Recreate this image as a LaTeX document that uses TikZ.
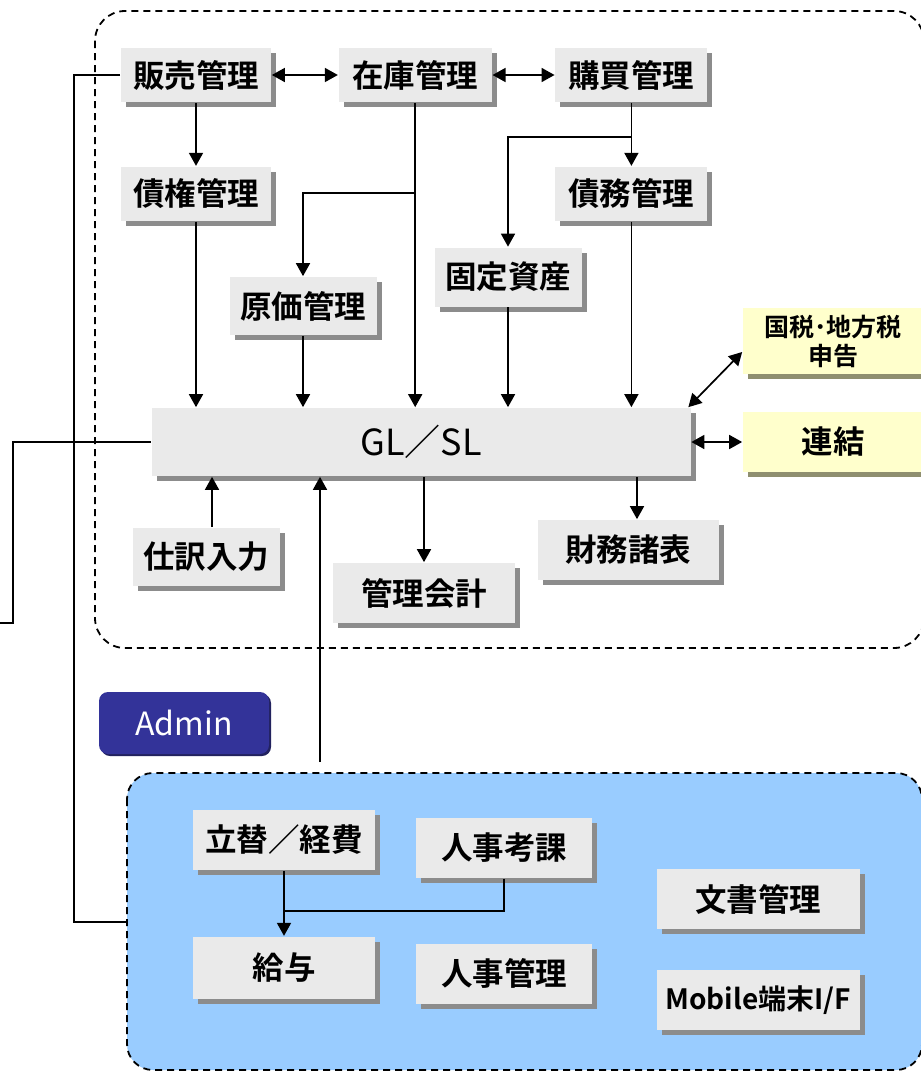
\documentclass[tikz,border=0pt]{standalone}
\usepackage{fontspec}
\setmainfont{Noto Sans CJK JP}[BoldFont={Noto Sans CJK JP Bold}]
\usetikzlibrary{arrows.meta,positioning,shadows}
\definecolor{boxgray}{HTML}{EAEAEA}
\definecolor{shadegray}{HTML}{8C8C8C}
\definecolor{taxyellow}{HTML}{FFFFCC}
\definecolor{taxshade}{HTML}{8F8F70}
\definecolor{hrblue}{HTML}{99CCFF}
\definecolor{adminblue}{HTML}{333399}
\definecolor{adminshade}{HTML}{22225E}

\begin{document}
\begin{tikzpicture}[x=1pt,y=-1pt,>={Triangle[length=13pt,width=14pt]},line width=1.7pt,
  box/.style={shape=rectangle,fill=boxgray,inner sep=0pt,minimum height=56pt,
    font=\fontsize{31.5}{35}\selectfont\bfseries,
    drop shadow={shadow xshift=5pt,shadow yshift=-5pt,fill=shadegray,opacity=1}},
  taxbox/.style={box,fill=taxyellow,drop shadow={shadow xshift=5pt,shadow yshift=-5pt,fill=taxshade,opacity=1}},
  area/.style={dashed,dash pattern=on 7pt off 5pt,line width=1.8pt,rounded corners=30pt}]
\useasboundingbox (0,0) rectangle (921,1071);
% areas
\draw[area] (95,11) rectangle (924,648);
\draw[area,fill=hrblue,rounded corners=26pt] (127,773) rectangle (922,1070);

% accounting
\node (hanbai) [box,minimum width=150pt,minimum height=54pt] at (196,75) {販売管理};
\node (zaiko) [box,minimum width=153pt,minimum height=54pt,right=66pt of hanbai] {在庫管理};
\node (kobai) [box,minimum width=152pt,minimum height=54pt,right=62pt of zaiko] {購買管理};
\node (saiken) [box,minimum width=150pt,minimum height=54pt,below=63pt of hanbai] {債権管理};
\node (saimu) [box,minimum width=152pt,minimum height=54pt,below=63pt of kobai] {債務管理};
\node (genka) [box,minimum width=147pt,minimum height=58pt] at (303,306) {原価管理};
\node (kotei) [box,minimum width=147pt,minimum height=59pt] at (508,277) {固定資産};
\node (gl) [box,minimum width=539pt,minimum height=68pt,font=\fontsize{36}{39}\selectfont] at (421,442) {GL／SL};
\node (shiwake) [box,minimum width=147pt,minimum height=58pt] at (206,557) {仕訳入力};
\node (kanri) [box,minimum width=182pt,minimum height=60pt] at (424,593) {管理会計};
\node (zaimu) [box,minimum width=181pt,minimum height=60pt] at (628,550) {財務諸表};
\node (kokuzei) [taxbox,minimum width=180pt,minimum height=66pt,align=center,
  font=\fontsize{25}{29}\selectfont\bfseries] at (833,341) {国税･地方税\\申告};
\node (renketsu) [taxbox,minimum width=180pt,minimum height=60pt] at (833,442) {連結};

% admin
\node (admin) [shape=rectangle,rounded corners=9pt,fill=adminblue,text=white,
  minimum width=170pt,minimum height=62pt,font=\fontsize{32}{35}\selectfont,
  drop shadow={shadow xshift=2pt,shadow yshift=-2pt,fill=adminshade,opacity=1}] at (184,723) {Admin};
\node (tatekae) [box,minimum width=182pt,minimum height=60pt] at (284,840) {立替／経費};
\node (kyuyo) [box,minimum width=182pt,minimum height=62pt,below=65pt of tatekae] {給与};
\node (jinji) [box,minimum width=176pt,minimum height=60pt] at (504,848) {人事考課};
\node (jinjikanri) [box,minimum width=176pt,minimum height=60pt,below=64pt of jinji] {人事管理};
\node (bunsho) [box,minimum width=203pt,minimum height=60pt] at (758,899) {文書管理};
\node (mobile) [box,minimum width=203pt,minimum height=60pt,below=39pt of bunsho,
  font=\fontsize{28}{31}\selectfont\bfseries] {Mobile端末I/F};

\coordinate (hr) at (320,762);
\coordinate (hrl) at (127,922);
\coordinate (offl) at (0,623);

\draw[<->] (hanbai) -- (zaiko);
\draw[<->] (zaiko) -- (kobai);
\draw[->] (hanbai) -- (saiken);
\draw[->] (zaiko.south) -- (zaiko.south |- gl.north);
\draw[->] (zaiko.south) ++(0,90) -| (genka.north);
\draw[->] (kobai) -- (saimu);
\draw[->] (kobai.south) ++(0,34) -| (kotei.north);
\draw[->] (saiken) -- (saiken |- gl.north);
\draw[->] (genka) -- (genka |- gl.north);
\draw[->] (kotei) -- (kotei |- gl.north);
\draw[->] (saimu) -- (saimu |- gl.north);
\draw[<->] ([xshift=-3pt]gl.north east) -- ([yshift=-11pt]kokuzei.west);
\draw[<->] (gl) -- (renketsu);
\draw[->] ([xshift=9pt]zaimu.north |- gl.south) -- ([xshift=9pt]zaimu.north);
\draw[->] (kanri |- gl.south) -- (kanri);
\draw[->] ([xshift=6pt]shiwake.north) -- ([xshift=6pt]shiwake.north |- gl.south);
\draw[->] (hr) -- (hr |- gl.south);
\draw (gl.west) -- ++(-138,0) |- (offl);
\draw (hanbai.west) -- ++(-46,0) |- (hrl);
\draw[->] (tatekae) -- (kyuyo);
\draw (jinji.south) -- ++(0,32) -| (tatekae.south);
\end{tikzpicture}
\end{document}
